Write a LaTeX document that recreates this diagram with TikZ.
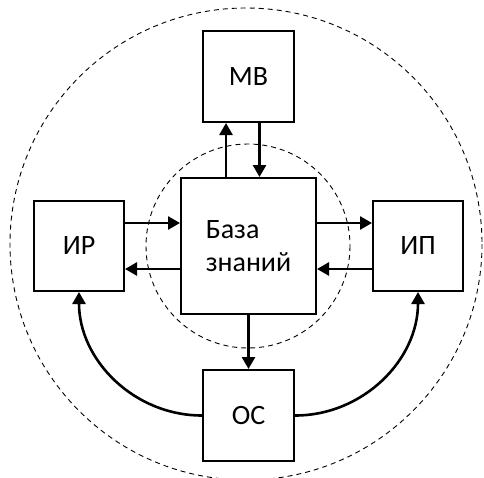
\documentclass[tikz,border=0pt]{standalone}
\usepackage{fontspec}
\setmainfont{Carlito}
\usetikzlibrary{arrows.meta}
\begin{document}
\begin{tikzpicture}[x=1pt,y=-1pt,
 box/.style={draw,line width=2pt,inner sep=0pt,font=\fontsize{28}{33}\selectfont},
 conn/.style={line width=2.6pt,-{Triangle[length=12pt,width=13pt]}},
 zone/.style={line width=0.9pt,dash pattern=on 5pt off 4pt}]
\useasboundingbox (0,0) rectangle (484,477);
\clip (0,0) rectangle (484,477);
\draw[zone] (246,244) circle[radius=236];
\draw[zone] (248,246) circle[radius=102];
\node[box,minimum width=91,minimum height=91] (mb) at (248.5,76.5) {МВ};
\node[box,minimum width=135,minimum height=136,align=left] (kb) at (248.5,246) {База\\знаний};
\node[box,minimum width=90,minimum height=90] (ir) at (79,246) {ИР};
\node[box,minimum width=90,minimum height=90] (ip) at (418,246) {ИП};
\node[box,minimum width=91,minimum height=91] (os) at (248.5,415.5) {ОС};
\draw[conn] ([xshift=-22.5pt]kb.north) -- ([xshift=-22.5pt]mb.south);
\draw[conn] ([xshift=11pt]mb.south) -- ([xshift=11pt]kb.north);
\draw[conn] ([yshift=23pt]ir.east) -- ([yshift=23pt]kb.west);
\draw[conn] ([yshift=-23pt]kb.west) -- ([yshift=-23pt]ir.east);
\draw[conn] ([yshift=23pt]kb.east) -- ([yshift=23pt]ip.west);
\draw[conn] ([yshift=-23pt]ip.west) -- ([yshift=-23pt]kb.east);
\draw[conn] (kb.south) -- (os.north);
\draw[conn] (os.west) to[out=180,in=-90] (ir.south);
\draw[conn] (os.east) to[out=0,in=-90] (ip.south);
\end{tikzpicture}
\end{document}
